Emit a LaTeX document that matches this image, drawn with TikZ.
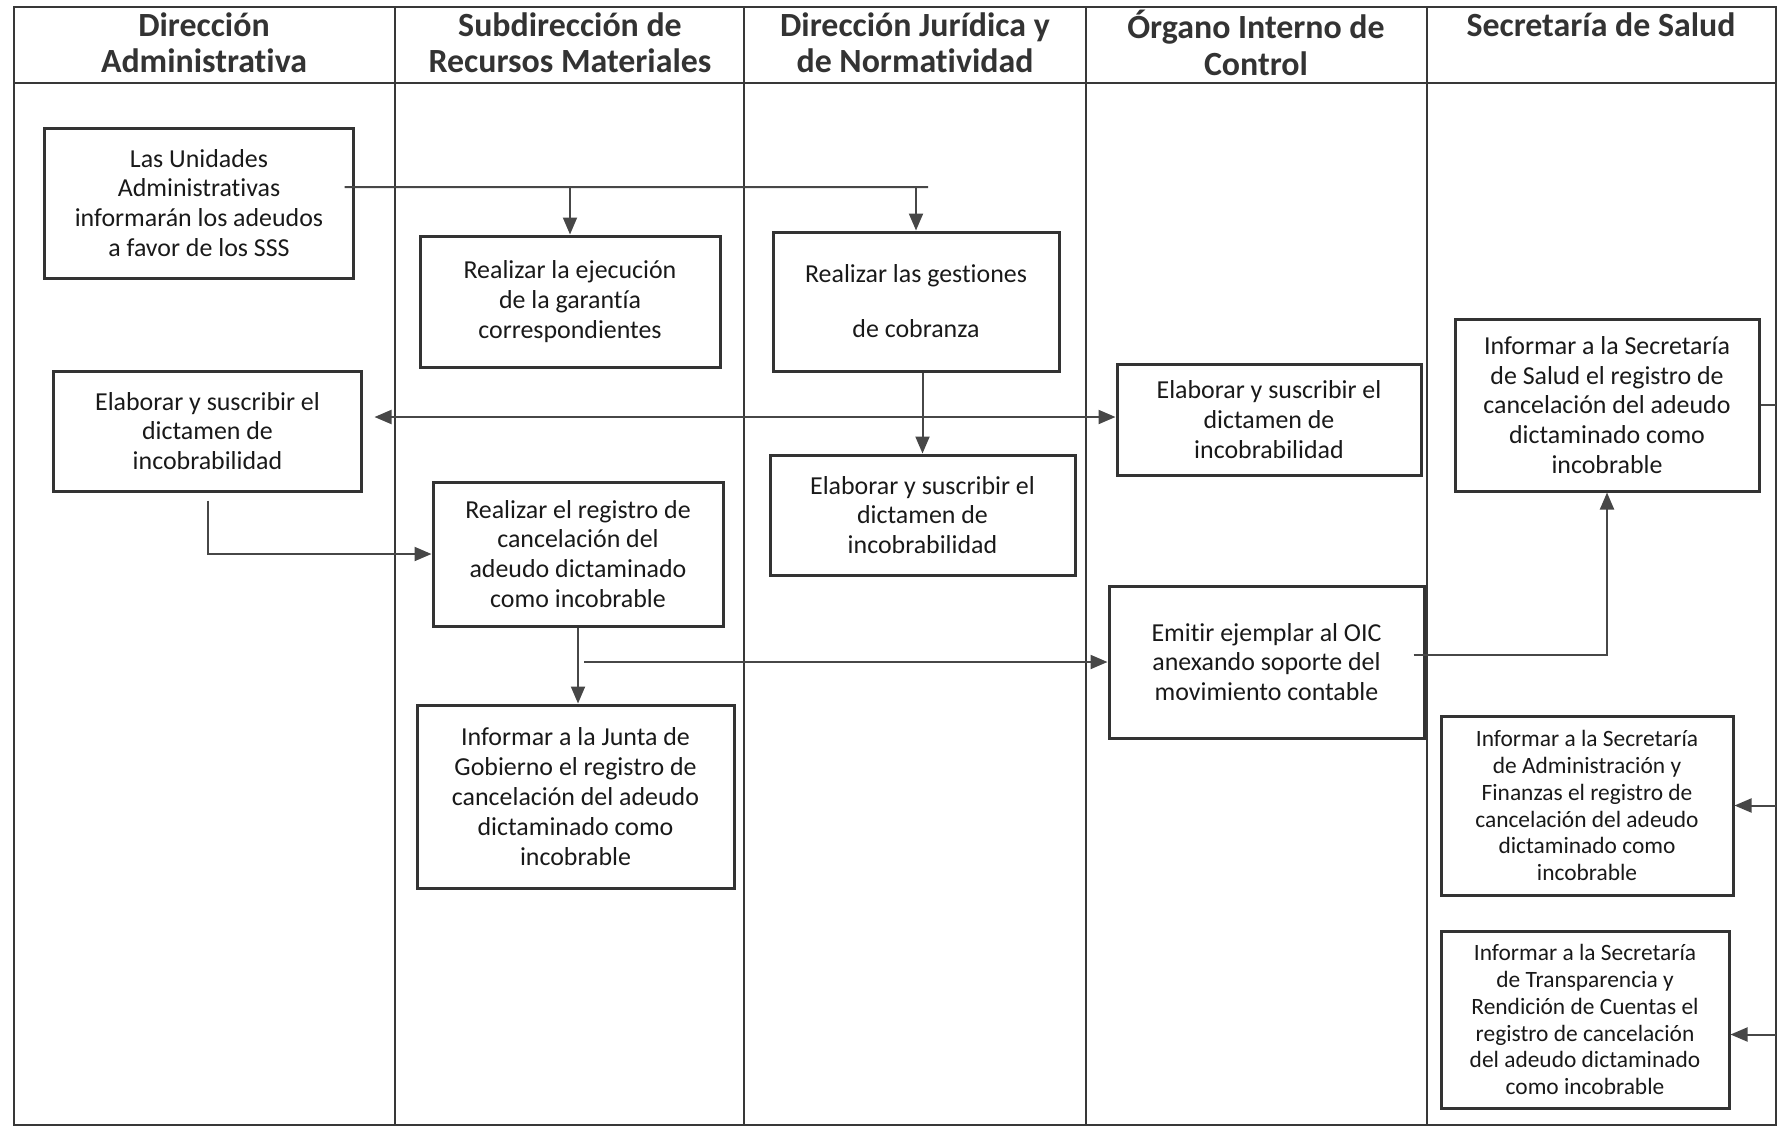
\documentclass[tikz,border=0pt]{standalone}
\usepackage{fontspec}
\setmainfont{Carlito}[Ligatures=NoCommon]
\usetikzlibrary{arrows.meta}
\newcommand\hdrfont{\fontsize{34}{37}\selectfont\bfseries}
\newcommand\boxfont{\fontsize{26}{30}\selectfont}
\newcommand\smallboxfont{\fontsize{23.5}{27}\selectfont}
\begin{document}
\begin{tikzpicture}[x=1bp,y=-1bp,
  lane/.style={draw=black!78,line width=1.7bp},
  hdr/.style={anchor=north,inner sep=0pt,align=center,text=black!80,font=\hdrfont},
  box/.style={draw=black!80,line width=3bp,align=center,text=black!90,font=\boxfont,inner sep=0pt},
  sbox/.style={box,font=\smallboxfont},
  conn/.style={draw=black!72,line width=2bp},
  arr/.style={conn,-{Triangle[length=17bp,width=14bp]}}]
\useasboundingbox (0,0) rectangle (1778,1127);
% frame and lanes
\draw[lane] (14,7) rectangle (1776,1125);
\draw[lane] (14,83) -- (1776,83);
\foreach \xx in {395,744,1086,1427} \draw[lane] (\xx,7) -- (\xx,1125);
% headers
\node[hdr] (h1) at (204,10) {\strut Dirección\\Administrativa};
\node[hdr] (h2) at (570,10) {\strut Subdirección de\\Recursos Materiales};
\node[hdr] (h3) at (915,10) {\strut Dirección Jurídica y\\de Normatividad};
\node[hdr] (h4) at (1256,10) {\strut Órgano Interno de\\Control};
\node[hdr] (h5) at (1601,10) {\strut Secretaría de Salud};
% boxes
\node[box,minimum width=308bp,minimum height=150bp] (A) at (199,203) {Las Unidades\\Administrativas\\informarán los adeudos\\a favor de los SSS};
\node[box,minimum width=300bp,minimum height=131bp] (B) at (570,301.5) {Realizar la ejecución\\de la garantía\\correspondientes};
\node[box,minimum width=286bp,minimum height=139bp] (C) at (916,301.5) {Realizar las gestiones\\[25bp]de cobranza};
\node[box,minimum width=307bp,minimum height=120bp] (D) at (207.5,431) {Elaborar y suscribir el\\dictamen de\\incobrabilidad};
\node[box,minimum width=304bp,minimum height=111bp] (E) at (1269,419.5) {Elaborar y suscribir el\\dictamen de\\incobrabilidad};
\node[box,minimum width=305bp,minimum height=120bp] (F) at (922.5,515) {Elaborar y suscribir el\\dictamen de\\incobrabilidad};
\node[box,minimum width=290bp,minimum height=144bp] (G) at (578,554) {Realizar el registro de\\cancelación del\\adeudo dictaminado\\como incobrable};
\node[box,minimum width=315bp,minimum height=152bp] (H) at (1266.5,662) {Emitir ejemplar al OIC\\anexando soporte del\\movimiento contable};
\node[box,minimum width=317bp,minimum height=183bp] (I) at (575.5,796.5) {Informar a la Junta de\\Gobierno el registro de\\cancelación del adeudo\\dictaminado como\\incobrable};
\node[box,minimum width=304bp,minimum height=172bp] (J) at (1607,405) {Informar a la Secretaría\\de Salud el registro de\\cancelación del adeudo\\dictaminado como\\incobrable};
\node[sbox,minimum width=292bp,minimum height=179bp] (K) at (1587,805.5) {Informar a la Secretaría\\de Administración y\\Finanzas el registro de\\cancelación del adeudo\\dictaminado como\\incobrable};
\node[sbox,minimum width=288bp,minimum height=177bp] (L) at (1585,1019.5) {Informar a la Secretaría\\de Transparencia y\\Rendición de Cuentas el\\registro de cancelación\\del adeudo dictaminado\\como incobrable};
% connectors
\coordinate (a1) at (928,187);
\draw[conn] ([xshift=-10bp,yshift=16bp]A.east) -- (a1);
\draw[arr] (B.north |- a1) -- (B.north);
\draw[arr] (C.north |- a1) -- (C.north);
\draw[arr] (F.north |- C.south) -- (F.north);
\coordinate (br) at (922.5,417);
\draw[arr,shorten >=12bp] (br) -- (D.east |- br);
\draw[arr] (br) -- (E.west |- br);
\draw[arr] ([yshift=-8bp]D.south) |- (G.west);
\draw[arr] (G.south) -- (G.south |- I.north);
\draw[arr] ([xshift=6bp]G.south |- H.west) -- (H.west);
\draw[arr] ([xshift=-12bp,yshift=7bp]H.east) -| (J.south);
\coordinate (rb) at (1776,405);
\draw[conn] (J.east) -- (rb);
\draw[arr] (K.east -| rb) -- (K.east);
\draw[arr] ([yshift=-15bp]L.east -| rb) -- ([yshift=-15bp]L.east);
\end{tikzpicture}
\end{document}
